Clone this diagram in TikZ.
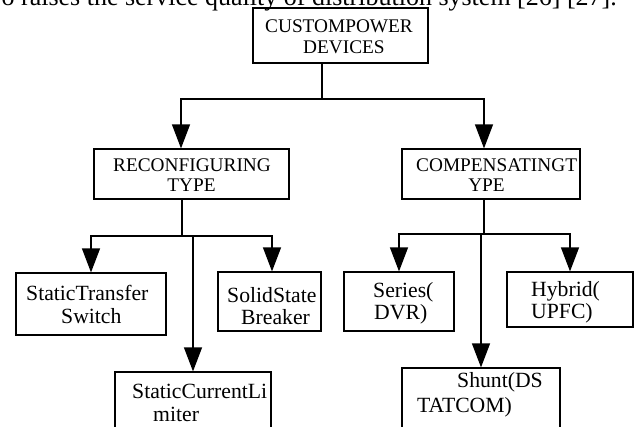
\documentclass[tikz,border=0pt]{standalone}
\usepackage{fontspec}
\setmainfont{Liberation Serif}
\usetikzlibrary{arrows.meta}
\begin{document}
\begin{tikzpicture}[x=1pt,y=-1pt,
  box/.style={draw, line width=1.2pt, rectangle, inner sep=0pt},
  link/.style={draw, line width=1.2pt},
  arr/.style={link, -{Triangle[length=24pt,width=18pt]}},
  capt/.style={font=\fontsize{19.3}{23}\selectfont, inner sep=0pt, anchor=base west},
  txt/.style={font=\fontsize{21.7}{26}\selectfont, inner sep=0pt, anchor=base west},
  body/.style={font=\fontsize{26}{30}\selectfont, inner sep=0pt, anchor=base east},
]
\useasboundingbox (0,0) rectangle (637,426);
\clip (0,0) rectangle (637,426);

% cut-off body text at the top
\node[body] (para) at (617,5) {o raises the service quality of distribution system [26] [27].};

% boxes
\node[box, minimum width=175pt, minimum height=55pt] (cpd) at (340.5,35.5) {};
\node[box, minimum width=195pt, minimum height=50pt] (reconf) at (191.5,174) {};
\node[box, minimum width=178pt, minimum height=50pt] (comp) at (491,174) {};
\node[box, minimum width=150pt, minimum height=62pt] (sts) at (91,304) {};
\node[box, minimum width=103pt, minimum height=59pt] (ssb) at (269.5,301.5) {};
\node[box, minimum width=156pt, minimum height=70pt] (scl) at (193,407) {};
\node[box, minimum width=110pt, minimum height=59pt] (series) at (399,301.5) {};
\node[box, minimum width=126pt, minimum height=55pt] (hybrid) at (570,299.5) {};
\node[box, minimum width=158pt, minimum height=74pt] (shunt) at (481,405) {};

% texts
\node[capt] (t1a) at (265,32) {CUSTOMPOWER};
\node[capt] (t1b) at (303,53) {DEVICES};
\node[capt] (t2a) at (113,171) {RECONFIGURING};
\node[capt, anchor=base] (t2b) at (191.5,191) {TYPE};
\node[capt] (t3a) at (416,171) {COMPENSATINGT};
\node[capt, anchor=base] (t3b) at (486.5,191) {YPE};
\node[txt] (t4a) at (26,300) {StaticTransfer};
\node[txt] (t4b) at (61,323) {Switch};
\node[txt] (t5a) at (227,302) {SolidState};
\node[txt] (t5b) at (241,324) {Breaker};
\node[txt] (t6a) at (132,398) {StaticCurrentLi};
\node[txt] (t6b) at (153,421) {miter};
\node[txt] (t7a) at (373,297) {Series(};
\node[txt] (t7b) at (374,319) {DVR)};
\node[txt] (t8a) at (531,296) {Hybrid(};
\node[txt] (t8b) at (531,318) {UPFC)};
\node[txt] (t9a) at (457,387) {Shunt(DS};
\node[txt] (t9b) at (417,412) {TATCOM)};

% junctions
\coordinate (j1) at (322,99);
\coordinate (j2) at (182,236);
\coordinate (j3) at (484,234);

% connectors
\draw[link] (cpd.south -| j1) -- (j1);
\draw[arr] (j1) -| ([xshift=-10.5pt]reconf.north);
\draw[arr] (j1) -| ([xshift=-7pt]comp.north);

\draw[link] (reconf.south -| j2) -- (j2);
\draw[arr] (j2) -| (sts.north);
\draw[arr] (j2) -| ([xshift=2.5pt]ssb.north);
\draw[arr] (j2 -| scl.north) -- (scl.north);

\draw[link] (comp.south -| j3) -- (j3);
\draw[arr] (j3) -| (series.north);
\draw[arr] (j3) -| (hybrid.north);
\draw[arr] (j3 -| shunt.north) -- (shunt.north);
\end{tikzpicture}
\end{document}
